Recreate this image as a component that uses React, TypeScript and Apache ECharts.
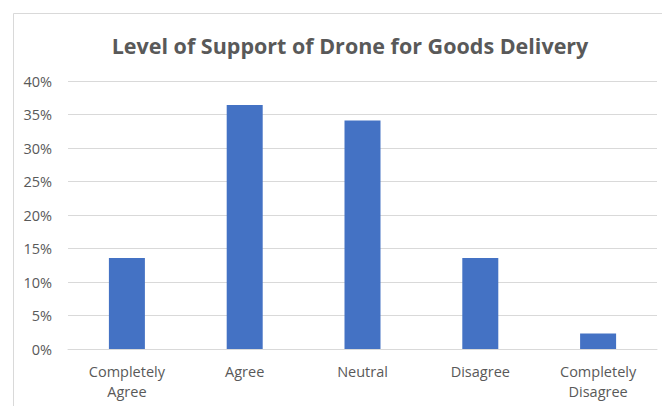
import React, { useEffect, useRef } from "react";
import * as echarts from "echarts";

const categories = ["Completely\nAgree", "Agree", "Neutral", "Disagree", "Completely\nDisagree"];
const values = [13.6, 36.4, 34.1, 13.6, 2.3];
const yTicks = { min: 0, max: 40, interval: 5 };
const title = "Level of Support of Drone for Goods Delivery";

export default function App() {
  const ref = useRef<HTMLDivElement>(null);
  useEffect(() => {
    if (!ref.current) return;
    const chart = echarts.init(ref.current, undefined, { renderer: "svg" });
    chart.setOption({
      animation: false,
      backgroundColor: "#ffffff",
      title: {
        text: title,
        left: 345,
        textAlign: "center",
        top: 29,
        textStyle: { fontFamily: "Open Sans", fontWeight: "bold", fontSize: 21.5, color: "#595959" },
      },
      graphic: [
        {
          type: "rect",
          shape: { x: 13.5, y: 13.5, width: 700, height: 450 },
          style: { fill: "none", stroke: "#d9d9d9", lineWidth: 1 },
          silent: true,
        },
      ],
      grid: { left: 68, right: 5, top: 81, bottom: 57 },
      xAxis: {
        type: "category",
        data: categories,
        axisLine: { lineStyle: { color: "#d9d9d9" } },
        axisTick: { show: false },
        axisLabel: { color: "#595959", fontFamily: "Open Sans", fontSize: 14.5, lineHeight: 20, margin: 12 },
      },
      yAxis: {
        type: "value",
        min: yTicks.min,
        max: yTicks.max,
        interval: yTicks.interval,
        axisLine: { show: false },
        axisTick: { show: false },
        splitLine: { lineStyle: { color: "#d9d9d9" } },
        axisLabel: { color: "#595959", fontFamily: "Open Sans", fontSize: 14.5, margin: 16, formatter: "{value}%" },
      },
      series: [
        {
          type: "bar",
          data: values,
          barWidth: 36,
          itemStyle: { color: "#4472C4" },
        },
      ],
    });
    return () => chart.dispose();
  }, []);
  return <div ref={ref} style={{ position: "fixed", left: 0, top: 0, width: 662, height: 406 }} />;
}
